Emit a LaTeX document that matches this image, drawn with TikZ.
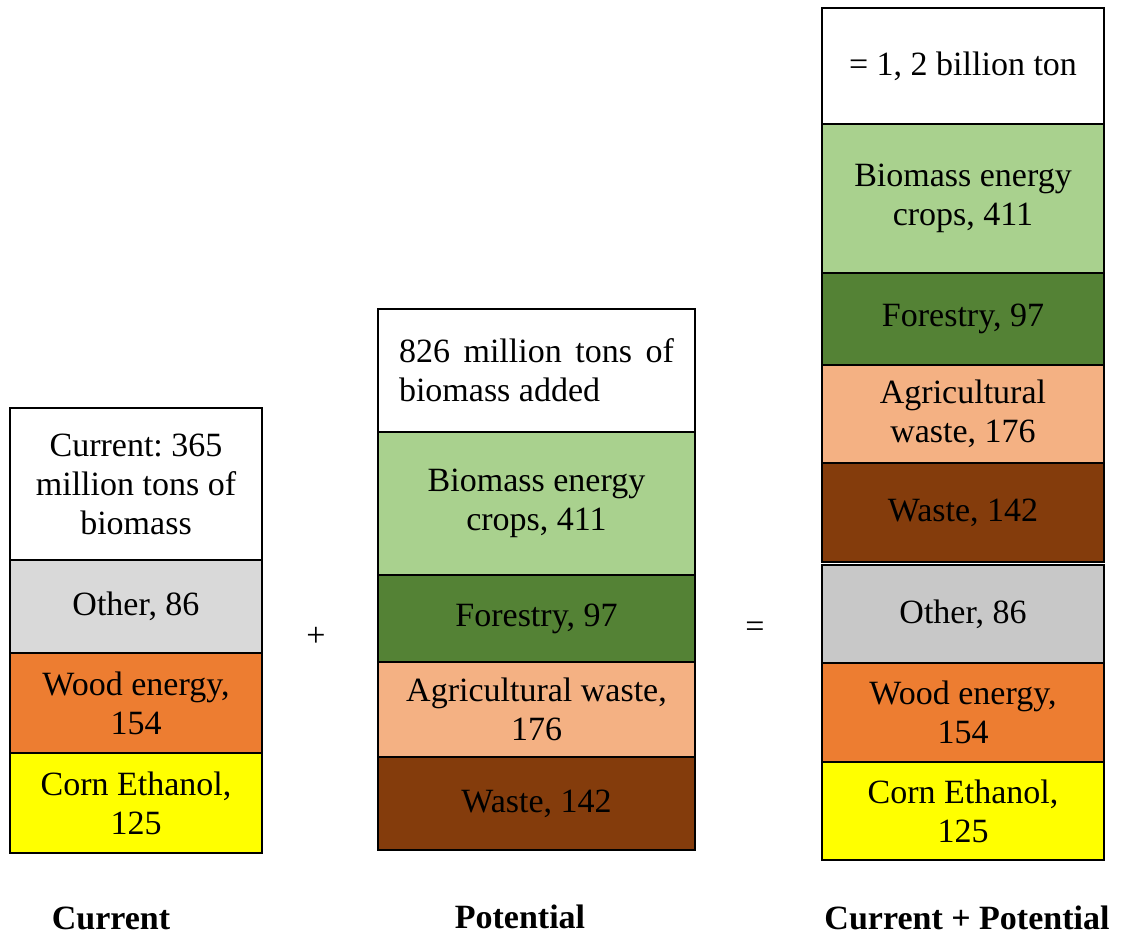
\documentclass[tikz,border=0pt]{standalone}
\usepackage{fontspec}
\setmainfont{Liberation Serif}
\frenchspacing
\definecolor{otherlight}{HTML}{D9D9D9}
\definecolor{otherdark}{HTML}{C8C8C8}
\definecolor{woodc}{HTML}{ED7D31}
\definecolor{cornc}{HTML}{FFFF00}
\definecolor{cropc}{HTML}{A9D18E}
\definecolor{forestc}{HTML}{548235}
\definecolor{agric}{HTML}{F4B183}
\definecolor{wastec}{HTML}{843C0C}
\begin{document}
\begin{tikzpicture}[x=1pt,y=-1pt,
  seg/.style={draw=black, line width=2.7pt, inner sep=0pt, align=center,
    font=\fontsize{34}{39}\selectfont, text=black},
  colA/.style={seg, minimum width=252pt},
  colB/.style={seg, minimum width=317pt},
  colC/.style={seg, minimum width=282pt},
  sign/.style={inner sep=0pt, font=\fontsize{34}{39}\selectfont},
  caption/.style={inner sep=0pt, font=\fontsize{34}{39}\selectfont\bfseries}]
\useasboundingbox (0,0) rectangle (1122,935);

% Current stack
\node[colA, fill=white, minimum height=152pt] (c1top) at (136,484) {Current: 365\\million tons of\\biomass};
\node[colA, fill=otherlight, minimum height=93pt] (c1other) at (136,606.5) {Other, 86};
\node[colA, fill=woodc, minimum height=100pt] (c1wood) at (136,703) {Wood energy,\\154};
\node[colA, fill=cornc, minimum height=100pt] (c1corn) at (136,803) {Corn Ethanol,\\125};

% Potential stack
\node[colB, fill=white, minimum height=123pt] (c2top) at (536.5,370.5)
  {\parbox{275pt}{\makebox[275pt][s]{826 million tons of}\\biomass added}};
\node[colB, fill=cropc, minimum height=143pt] (c2crop) at (536.5,503.5) {Biomass energy\\crops, 411};
\node[colB, fill=forestc, minimum height=87pt] (c2forest) at (536.5,618.5) {Forestry, 97};
\node[colB, fill=agric, minimum height=95pt] (c2agri) at (536.5,709.5) {Agricultural waste,\\176};
\node[colB, fill=wastec, minimum height=93pt] (c2waste) at (536.5,803.5) {Waste, 142};

% Combined stack
\node[colC, fill=white, minimum height=116pt] (c3top) at (963,66) {= 1, 2 billion ton};
\node[colC, fill=cropc, minimum height=149pt] (c3crop) at (963,198.5) {Biomass energy\\crops, 411};
\node[colC, fill=forestc, minimum height=92pt] (c3forest) at (963,319) {Forestry, 97};
\node[colC, fill=agric, minimum height=98pt] (c3agri) at (963,414) {Agricultural\\waste, 176};
\node[colC, fill=wastec, minimum height=99pt] (c3waste) at (963,512.5) {Waste, 142};
\node[colC, fill=otherdark, minimum height=98pt] (c3other) at (963,614) {Other, 86};
\node[colC, fill=woodc, minimum height=99pt] (c3wood) at (963,712.5) {Wood energy,\\154};
\node[colC, fill=cornc, minimum height=98pt] (c3corn) at (963,811) {Corn Ethanol,\\125};

% Operators between the stacks
\node[sign] (plus) at (316,637) {+};
\node[sign] (equals) at (755,630) {=};

% Captions
\node[caption] (capA) at (111,918) {Current};
\node[caption] (capB) at (520,917) {Potential};
\node[caption] (capC) at (967,918) {Current + Potential};
\end{tikzpicture}
\end{document}
